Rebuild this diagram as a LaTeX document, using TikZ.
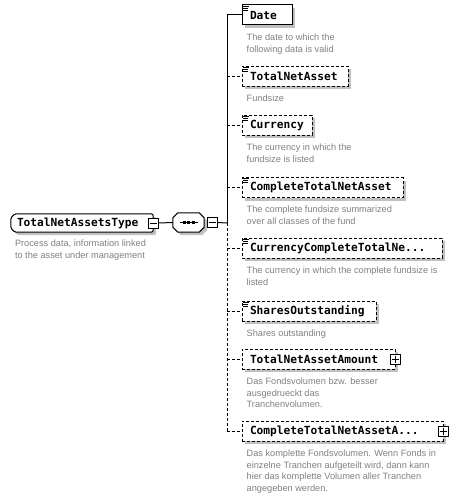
\documentclass[tikz,border=0pt]{standalone}
\usepackage{fontspec}
\newfontfamily\monofam{DejaVu Sans Mono}
\newfontfamily\descf{Liberation Sans}
\usetikzlibrary{shadows,backgrounds,calc}
\definecolor{descgray}{RGB}{128,128,128}
\definecolor{shadowc}{RGB}{192,192,192}
\tikzset{
  elem/.style={draw, fill=white, line width=1pt, anchor=west, minimum height=20pt,
    inner xsep=8pt, inner ysep=0pt, align=left, text=black,
    font=\monofam\bfseries\fontsize{11.2pt}{13pt}\selectfont,
    general shadow={fill=shadowc, shadow xshift=3pt, shadow yshift=-3pt}},
  optelem/.style={elem, dash pattern=on 3pt off 2pt},
  desc/.style={anchor=north west, inner sep=0pt, align=left, text=descgray,
    font=\descf\fontsize{9.2pt}{11.7pt}\selectfont},
  pm/.style={draw, fill=white, line width=1pt, minimum width=10pt, minimum height=10pt, inner sep=0pt},
  conn/.style={line width=1pt},
  optconn/.style={line width=1pt, dash pattern=on 3pt off 2pt},
  icon/.style={line width=0.8pt},
  rootbox/.style={inner xsep=6pt, inner ysep=0pt, minimum height=18pt, text width=130pt, align=left,
    font=\monofam\bfseries\fontsize{11.2pt}{13pt}\selectfont},
  seqbox/.style={inner sep=0pt, minimum width=31pt, minimum height=19pt}
}
\newcommand{\docicon}[1]{%
  \draw[icon] ([xshift=1.5pt,yshift=-1.5pt]#1.north west) -- ++(6,0);
  \draw[icon] ([xshift=1.5pt,yshift=-3.5pt]#1.north west) -- ++(4.5,0);
  \draw[icon] ([xshift=1.5pt,yshift=-5.5pt]#1.north west) -- ++(4.5,0);}
\begin{document}
\begin{tikzpicture}[x=1pt,y=-1pt]
\useasboundingbox (0,0) rectangle (457,497);

% root type
\node[rootbox] (root) at (82,223) {TotalNetAssetsType};
\begin{scope}[on background layer]
  \fill[shadowc, rounded corners=1.5pt]
    ([xshift=7pt,yshift=-3pt]root.north west) -- ([xshift=3pt,yshift=-3pt]root.north east)
    -- ([xshift=3pt,yshift=-3pt]root.south east) -- ([xshift=7pt,yshift=-3pt]root.south west)
    -- ([xshift=3pt,yshift=1pt]root.south west) -- ([xshift=3pt,yshift=-7pt]root.north west) -- cycle;
  \draw[line width=1pt, fill=white, rounded corners=1.5pt]
    ([xshift=4pt]root.north west) -- (root.north east) -- (root.south east)
    -- ([xshift=4pt]root.south west) -- ([yshift=4pt]root.south west)
    -- ([yshift=-4pt]root.north west) -- cycle;
\end{scope}
\node[pm] (m1) at (root.east) {};
\draw[line width=1pt] ([xshift=2pt]m1.west) -- ([xshift=-2pt]m1.east);
\node[desc] (rootdesc) at ([xshift=4pt,yshift=-7.5pt]root.south west)
  {Process data, information linked\\to the asset under management};

% sequence compositor
\node[seqbox] (seq) at (188.5,222.5) {};
\begin{scope}[on background layer]
  \fill[shadowc]
    ([xshift=8pt,yshift=-3pt]seq.north west) -- ([xshift=-2pt,yshift=-3pt]seq.north east)
    -- ([xshift=3pt,yshift=-8pt]seq.north east) -- ([xshift=3pt,yshift=2pt]seq.south east)
    -- ([xshift=-2pt,yshift=-3pt]seq.south east) -- ([xshift=8pt,yshift=-3pt]seq.south west)
    -- ([xshift=3pt,yshift=2pt]seq.south west) -- ([xshift=3pt,yshift=-8pt]seq.north west) -- cycle;
  \draw[line width=1pt, fill=white]
    ([xshift=5pt]seq.north west) -- ([xshift=-5pt]seq.north east)
    -- ([yshift=-5pt]seq.north east) -- ([yshift=5pt]seq.south east)
    -- ([xshift=-5pt]seq.south east) -- ([xshift=5pt]seq.south west)
    -- ([yshift=5pt]seq.south west) -- ([yshift=-5pt]seq.north west) -- cycle;
\end{scope}
\draw[line width=1pt] ([xshift=-9pt]seq.center) -- ([xshift=9pt]seq.center);
\foreach \dx in {-4.5,0,4.5}
  \fill ([xshift=\dx pt-1.5pt,yshift=1.5pt]seq.center) rectangle ++(3,3);
\node[pm] (m2) at ([xshift=8pt]seq.east) {};
\draw[line width=1pt] ([xshift=2pt]m2.west) -- ([xshift=-2pt]m2.east);

\draw[conn] (m1.east) -- (seq.west);
\coordinate (jn) at (227,223);
\draw[conn] (m2.east) -- (jn);

% elements
\node[elem, text width=34pt] (date) at (241.5,15) {Date};
\node[optelem, text width=90pt] (tna) at (241.5,76.5) {TotalNetAsset};
\node[optelem, text width=54pt] (cur) at (241.5,125.5) {Currency};
\node[optelem, text width=145pt] (ctna) at (241.5,187.5) {CompleteTotalNetAsset};
\node[optelem, text width=184pt] (cctn) at (241.5,248) {CurrencyCompleteTotalNe...};
\node[optelem, text width=118pt] (so) at (241.5,311) {SharesOutstanding};
\node[optelem, text width=137pt] (tnaa) at (241.5,359) {TotalNetAssetAmount};
\node[optelem, text width=185pt] (ctnaa) at (241.5,431) {CompleteTotalNetAssetA...};

\docicon{date}\docicon{tna}\docicon{cur}\docicon{ctna}\docicon{cctn}\docicon{so}

\node[pm] (p1) at (tnaa.east) {};
\draw[line width=1pt] ([xshift=2pt]p1.west) -- ([xshift=-2pt]p1.east);
\draw[line width=1pt] ([yshift=-2pt]p1.north) -- ([yshift=2pt]p1.south);
\node[pm] (p2) at (ctnaa.east) {};
\draw[line width=1pt] ([xshift=2pt]p2.west) -- ([xshift=-2pt]p2.east);
\draw[line width=1pt] ([yshift=-2pt]p2.north) -- ([yshift=2pt]p2.south);

% descriptions
\node[desc] (d1) at ([xshift=5pt,yshift=-8pt]date.south west) {The date to which the\\following data is valid};
\node[desc] (d2) at ([xshift=5pt,yshift=-8pt]tna.south west) {Fundsize};
\node[desc] (d3) at ([xshift=5pt,yshift=-8pt]cur.south west) {The currency in which the\\fundsize is listed};
\node[desc] (d4) at ([xshift=5pt,yshift=-8pt]ctna.south west) {The complete fundsize summarized\\over all classes of the fund};
\node[desc] (d5) at ([xshift=5pt,yshift=-8pt]cctn.south west) {The currency in which the complete fundsize is\\listed};
\node[desc] (d6) at ([xshift=5pt,yshift=-8pt]so.south west) {Shares outstanding};
\node[desc] (d7) at ([xshift=5pt,yshift=-8pt]tnaa.south west) {Das Fondsvolumen bzw. besser\\ausgedrueckt das\\Tranchenvolumen.};
\node[desc] (d8) at ([xshift=5pt,yshift=-8pt]ctnaa.south west) {Das komplette Fondsvolumen. Wenn Fonds in\\einzelne Tranchen aufgeteilt wird, dann kann\\hier das komplette Volumen aller Tranchen\\angegeben werden.};

% trunk and branches
\draw[conn] (jn) -- (date.west -| jn) -- (date.west);
\draw[optconn] (jn) -- (ctnaa.west -| jn);
\draw[optconn] (tna.west -| jn) -- (tna.west);
\draw[optconn] (cur.west -| jn) -- (cur.west);
\draw[optconn] (ctna.west -| jn) -- (ctna.west);
\draw[optconn] (cctn.west -| jn) -- (cctn.west);
\draw[optconn] (so.west -| jn) -- (so.west);
\draw[optconn] (tnaa.west -| jn) -- (tnaa.west);
\draw[optconn] (ctnaa.west -| jn) -- (ctnaa.west);
\end{tikzpicture}
\end{document}
